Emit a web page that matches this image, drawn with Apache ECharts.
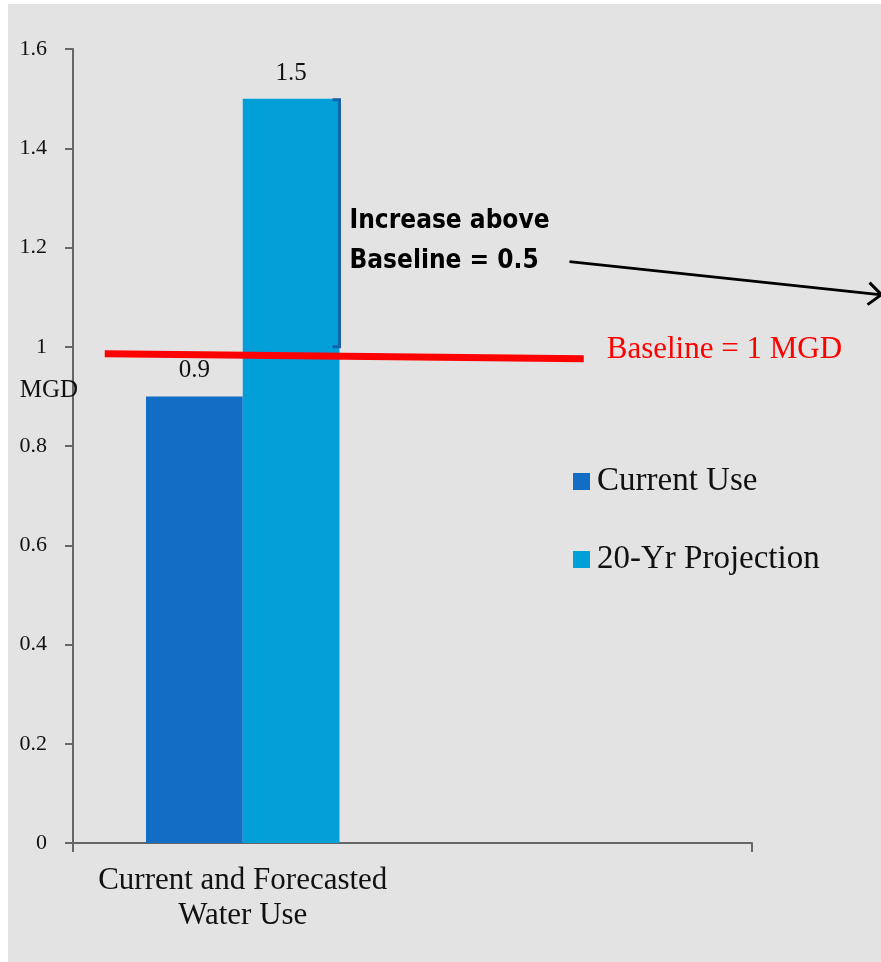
<!DOCTYPE html>
<html>
<head>
<meta charset="utf-8">
<script src="https://cdn.jsdelivr.net/npm/echarts@6/dist/echarts.min.js"></script>
<style>
  html, body { margin: 0; padding: 0; background: #ffffff; }
  #chart { position: absolute; left: 8px; top: 4px; width: 873px; height: 958px; }
</style>
</head>
<body>
<div id="chart"></div>
<script>
// Water use figures, million gallons per day
const categories = ['Current and Forecasted\nWater Use', ''];
const currentUse = [0.9, null];
const projection20yr = [1.5, null];
const baseline = 1;
const yTicks = { min: 0, max: 1.6, interval: 0.2 };
const unitName = 'MGD';

const serif = '"Liberation Serif", "DejaVu Serif", serif';
const axisColor = '#666666';

const chart = echarts.init(document.getElementById('chart'));

const option = {
  backgroundColor: '#e3e3e3',
  animation: false,
  textStyle: { fontFamily: serif },
  grid: { left: 65, right: 129, top: 45, bottom: 119, containLabel: false, outerBoundsMode: 'none' },
  legend: {
    orient: 'vertical',
    left: 560,
    top: 456,
    itemWidth: 17,
    itemHeight: 17,
    itemGap: 45,
    icon: 'rect',
    textStyle: { fontFamily: serif, fontSize: 33, color: '#111111', padding: [0, 0, 0, 2] },
    data: ['Current Use', '20-Yr Projection']
  },
  xAxis: {
    type: 'category',
    data: categories,
    axisLine: { lineStyle: { color: axisColor, width: 2 } },
    axisTick: { show: true, length: 9, alignWithLabel: false, lineStyle: { color: axisColor, width: 2 } },
    axisLabel: { fontFamily: serif, fontSize: 31, color: '#111111', lineHeight: 35, margin: 20 }
  },
  yAxis: {
    type: 'value',
    min: yTicks.min,
    max: yTicks.max,
    interval: yTicks.interval,
    splitLine: { show: false },
    axisLine: { show: true, lineStyle: { color: axisColor, width: 2 } },
    axisTick: { show: true, length: 8, lineStyle: { color: axisColor, width: 2 } },
    axisLabel: {
      fontFamily: serif, fontSize: 22, color: '#111111', margin: 26,
      formatter: v => String(Math.round(v * 10) / 10)
    }
  },
  series: [
    {
      name: 'Current Use',
      type: 'bar',
      data: currentUse,
      barGap: '0%',
      barCategoryGap: '43%',
      itemStyle: { color: '#126ec4' },
      label: { show: true, position: 'top', distance: 13, fontFamily: serif, fontSize: 25, color: '#111111' }
    },
    {
      name: '20-Yr Projection',
      type: 'bar',
      data: projection20yr,
      barGap: '0%',
      barCategoryGap: '43%',
      itemStyle: { color: '#029fd9' },
      label: { show: true, position: 'top', distance: 13, fontFamily: serif, fontSize: 25, color: '#111111' }
    }
  ]
};
chart.setOption(option);

// Annotations placed from the axis scales
const yBase = chart.convertToPixel({ yAxisIndex: 0 }, baseline);
const yTop = chart.convertToPixel({ yAxisIndex: 0 }, projection20yr[0]);
const xCenter = chart.convertToPixel({ xAxisIndex: 0 }, 0);
const xNext = chart.convertToPixel({ xAxisIndex: 0 }, 1);
const xAxisStart = xCenter - (xNext - xCenter) / 2;
const barW = (xNext - xCenter) * 0.57 / 2;
const bracketX = xCenter + barW;
const increase = Math.round((projection20yr[0] - baseline) * 10) / 10;

chart.setOption({
  graphic: [
    // unit label beside the value axis
    {
      type: 'text', z: 100,
      x: xAxisStart - 24, y: yBase + 44,
      style: { text: unitName, fill: '#111111', font: '25px ' + serif, textAlign: 'center', textVerticalAlign: 'middle' }
    },
    // baseline marker
    {
      type: 'line', z: 100,
      shape: { x1: xCenter - 138, y1: yBase + 7, x2: xCenter + 341, y2: yBase + 12 },
      style: { stroke: '#ff0000', lineWidth: 7 }
    },
    {
      type: 'text', z: 100,
      x: xCenter + 364, y: yBase + 3,
      style: { text: 'Baseline = ' + baseline + ' MGD', fill: '#ff0000', font: '31px ' + serif, textVerticalAlign: 'middle' }
    },
    // bracket spanning the increase above baseline
    {
      type: 'polyline', z: 100,
      shape: { points: [[bracketX - 7, yTop + 1], [bracketX, yTop + 1], [bracketX, yBase], [bracketX - 7, yBase]] },
      style: { stroke: '#1562ad', lineWidth: 3, fill: null }
    },
    {
      type: 'text', z: 100,
      x: bracketX + 10, y: yTop + 103,
      style: {
        text: 'Increase above\nBaseline = ' + increase,
        fill: '#000000',
        font: 'bold 26px "DejaVu Sans Condensed", "DejaVu Sans", sans-serif',
        lineHeight: 40
      }
    },
    // pointer arrow
    {
      type: 'line', z: 100,
      shape: { x1: bracketX + 230, y1: yTop + 163, x2: bracketX + 540, y2: yTop + 196 },
      style: { stroke: '#000000', lineWidth: 3 }
    },
    {
      type: 'polyline', z: 100,
      shape: { points: [[bracketX + 530, yTop + 184], [bracketX + 542, yTop + 196], [bracketX + 528, yTop + 206]] },
      style: { stroke: '#000000', lineWidth: 3, fill: null }
    }
  ]
});
</script>
</body>
</html>
